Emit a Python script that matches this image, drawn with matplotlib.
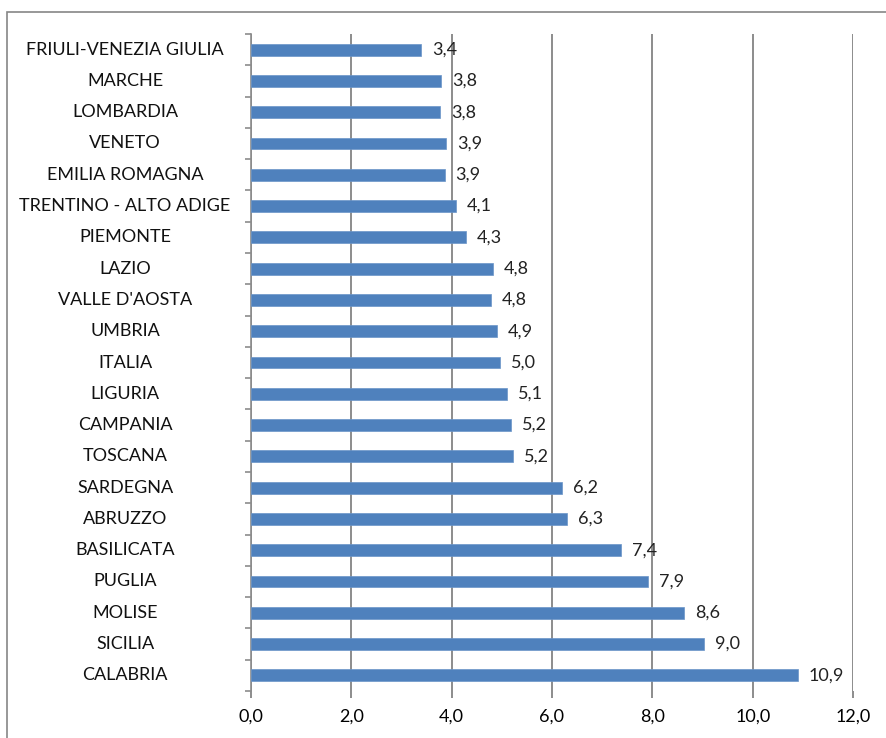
import matplotlib
matplotlib.use('Agg')
import matplotlib.pyplot as plt
from matplotlib.patches import Rectangle

regioni = ['FRIULI-VENEZIA GIULIA', 'MARCHE', 'LOMBARDIA', 'VENETO', 'EMILIA ROMAGNA',
           'TRENTINO - ALTO ADIGE', 'PIEMONTE', 'LAZIO', "VALLE D'AOSTA", 'UMBRIA',
           'ITALIA', 'LIGURIA', 'CAMPANIA', 'TOSCANA', 'SARDEGNA', 'ABRUZZO',
           'BASILICATA', 'PUGLIA', 'MOLISE', 'SICILIA', 'CALABRIA']
valori = [3.39, 3.79, 3.77, 3.89, 3.86, 4.09, 4.28, 4.82, 4.78, 4.90,
          4.96, 5.10, 5.18, 5.22, 6.20, 6.30, 7.37, 7.91, 8.63, 9.03, 10.90]
ticks_x = [0, 2, 4, 6, 8, 10, 12]

plt.rcParams['font.family'] = ['Lato', 'DejaVu Sans']

fig = plt.figure(figsize=(8.86, 7.38), dpi=100)
ax = fig.add_axes([251 / 886, 1 - 691 / 738, 602 / 886, 657 / 738])

# cornice del grafico (stile Excel)
fig.patches.append(Rectangle((7 / 886, -0.1), 1.2, 1.1 - 12.5 / 738, transform=fig.transFigure,
                             fill=False, edgecolor='#868686', linewidth=1.2))

n = len(regioni)
pos = [n - 1 - i for i in range(n)]
ax.barh(pos, valori, height=0.38, color='#4F81BD', edgecolor='#6A95C8', linewidth=0.5, zorder=3)

for p, v in zip(pos, valori):
    ax.text(v + 0.22, p, f'{v:.1f}'.replace('.', ','), va='center', ha='left',
            fontsize=13, color='#222222', zorder=4)

ax.set_xlim(0, 12)
ax.set_ylim(-0.5, n - 0.5)
ax.set_xticks(ticks_x)
ax.set_xticklabels([f'{t:.1f}'.replace('.', ',') for t in ticks_x], fontsize=13)
ax.xaxis.grid(True, color='#8C8C8C', linewidth=1.4, zorder=0)

ax.set_yticks([i - 0.5 for i in range(n + 1)])
ax.set_yticklabels([])
ax.tick_params(axis='y', length=4.5, width=1.2, color='#8C8C8C', direction='out')
ax.tick_params(axis='x', length=5, width=1.4, color='#8C8C8C', direction='out', pad=8)

for p, r in zip(pos, regioni):
    ax.text(-126 / 602 * 12, p, r, ha='center', va='center', fontsize=13, color='#111111')

for s in ['top', 'right', 'bottom']:
    ax.spines[s].set_visible(False)
ax.spines['left'].set_color('#8C8C8C')
ax.spines['left'].set_linewidth(1.2)

fig.savefig('out.png', dpi=100)
